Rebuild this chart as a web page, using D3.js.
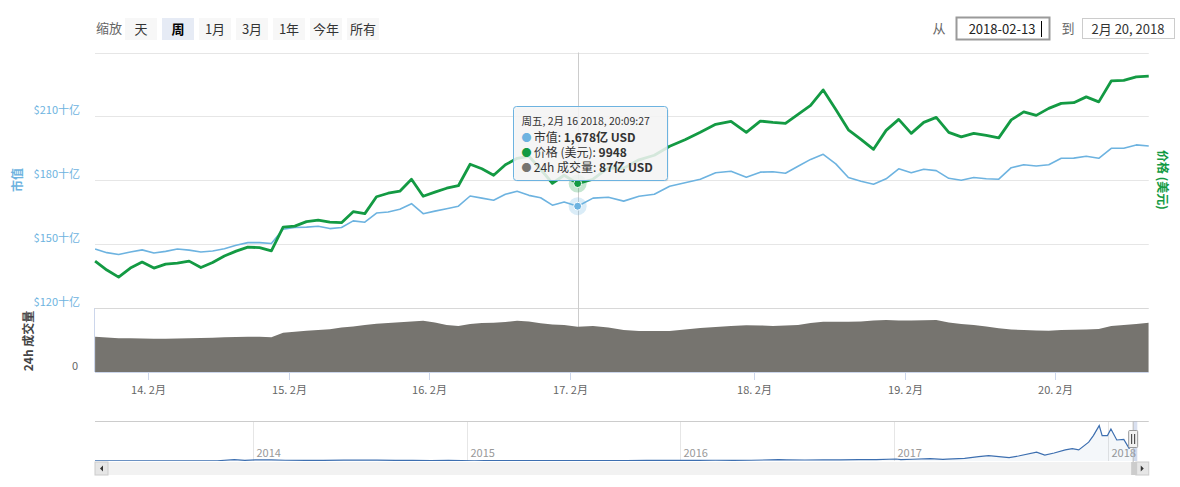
<!DOCTYPE html>
<html><head><meta charset="utf-8">
<script src="https://cdn.jsdelivr.net/npm/d3@7"></script>
<style>
body{margin:0;background:#fff;}
svg{display:block;font-family:"Noto Sans CJK SC","Noto Sans",sans-serif;}
</style></head><body>
<svg id="c" width="1180" height="487"></svg>
<script>
// ---------------- data ----------------
const zoomLabel = "缩放";
const rangeButtons = ["天","周","1月","3月","1年","今年","所有"];
const selectedButton = "周";
const fromLabel = "从", toLabel = "到";
const fromValue = "2018-02-13", toValue = "2月 20, 2018";

const startTime = "2018-02-13T15:00:00Z";
const stepHours = 2;
// 市值 (十亿 USD)
const marketCap = [147.7,146.0,145.1,146.3,147.3,145.8,146.6,147.7,147.2,146.3,
146.8,147.8,149.5,150.7,150.7,150.3,157.0,157.8,158.0,158.4,
157.3,157.8,160.9,160.3,164.6,165.1,166.4,169.0,164.3,165.5,
166.6,167.8,172.6,171.6,170.6,173.4,174.8,172.9,171.8,168.3,
169.8,167.8,171.6,172.0,170.2,172.5,173.4,177.2,178.8,180.5,
183.5,184.2,181.4,183.8,184.0,183.3,186.6,189.8,192.2,187.7,
181.3,179.5,178.1,180.7,185.4,183.5,185.2,184.5,180.9,180.0,
181.3,180.7,180.5,185.9,187.3,186.7,187.3,190.3,190.4,191.3,
190.3,195.0,195.0,196.6,196.1];
// 价格 (美元)
const price = [8734,8594,8484,8625,8719,8625,8688,8703,8734,8633,
8711,8813,8891,8953,8945,8895,9266,9281,9352,9375,
9344,9336,9508,9477,9742,9797,9828,10016,9750,9813,
9875,9914,10250,10180,10078,10242,10344,10375,10172,9953,
10078,9948,10016,10195,10188,10320,10391,10531,10633,10750,
10875,10922,10750,10927,10906,10891,11031,11172,11414,11109,
10789,10641,10484,10781,10953,10734,10906,10984,10750,10680,
10734,10703,10664,10945,11070,11016,11125,11203,11214,11305,
11227,11555,11563,11617,11630];
// 24h 成交量 (十亿 USD)
const volume = [6.79,6.63,6.48,6.48,6.44,6.40,6.40,6.44,6.48,6.54,
6.58,6.67,6.73,6.79,6.77,6.67,7.56,7.73,7.94,8.08,
8.21,8.56,8.75,9.04,9.27,9.42,9.56,9.71,9.87,9.52,
9.04,8.85,9.23,9.42,9.48,9.62,9.87,9.71,9.37,9.13,
9.04,8.70,8.85,8.56,8.08,7.88,7.88,7.88,8.17,8.46,
8.65,8.85,8.98,8.94,8.85,8.94,9.04,9.42,9.67,9.67,
9.67,9.71,9.90,10.00,9.90,9.90,9.94,10.00,9.52,9.23,
9.04,8.75,8.40,8.17,8.08,7.98,7.94,8.08,8.13,8.19,
8.27,8.85,9.04,9.23,9.48];

const dayTicks = ["2018-02-14","2018-02-15","2018-02-16","2018-02-17","2018-02-18","2018-02-19","2018-02-20"];
const capTicks = [120,150,180,210,240];
const capLabelTicks = [120,150,180,210];
const priceTicks = [8000,9000,10000,11000,12000];
const volumeMax = 12.3;

const hoverIndex = 41;
const tooltipHeader = "周五, 2月 16 2018, 20:09:27";

// navigator history: market cap (十亿 USD)
const navDates = ["2013-04-05","2013-05-01","2013-06-01","2013-07-01","2013-08-01","2013-09-01","2013-10-01","2013-11-01","2013-11-30","2013-12-18",
"2014-01-05","2014-02-01","2014-02-25","2014-04-01","2014-05-01","2014-06-05","2014-07-01","2014-08-01","2014-09-01","2014-10-01",
"2014-11-01","2014-12-01","2015-01-14","2015-02-01","2015-03-01","2015-04-01","2015-05-01","2015-06-01","2015-07-01","2015-08-01",
"2015-09-01","2015-10-01","2015-11-04","2015-12-01","2016-01-01","2016-02-01","2016-03-01","2016-04-01","2016-05-01","2016-06-17",
"2016-07-01","2016-08-01","2016-09-01","2016-10-01","2016-11-01","2016-12-01","2017-01-04","2017-01-12","2017-02-01","2017-03-03",
"2017-03-25","2017-04-01","2017-05-01","2017-05-25","2017-06-11","2017-07-16","2017-08-01","2017-09-01","2017-09-15","2017-10-01",
"2017-10-20","2017-11-01","2017-11-12","2017-11-29","2017-12-07","2017-12-17","2017-12-22","2017-12-31","2018-01-06","2018-01-16",
"2018-01-28","2018-02-06","2018-02-13","2018-02-20"];
const navCap = [1.6,1.3,1.2,1.0,1.1,1.5,1.5,2.4,13.0,6.0,
11.0,10.0,7.0,5.5,5.5,8.2,8.0,7.6,6.3,5.0,
4.4,5.2,2.3,3.1,3.5,3.5,3.3,3.2,3.8,4.1,
3.4,3.5,6.0,5.4,6.5,5.8,6.6,6.4,7.0,11.7,
10.4,9.2,9.5,9.7,11.7,12.4,18.0,12.5,15.6,20.8,
15.5,17.6,23.6,40.0,48.0,31.0,44.9,80.0,53.0,72.0,
100.0,112.0,100.0,170.0,230.0,320.0,230.0,230.0,290.0,190.0,
195.0,115.0,145.0,195.0];
const navYears = [2014,2015,2016,2017,2018];

// ---------------- layout ----------------
const svg = d3.select("#c");
const plotL = 95, plotR = 1148.75;
const mainTop = 52.5, mainBot = 308, volTop = 308, volBot = 372;
const BLUE = "#6db3e0", GREEN = "#139a43", VOLC = "#76746f";

const parseDay = d3.utcParse("%Y-%m-%d");
const t0 = new Date(startTime);
const times = marketCap.map((_, i) => d3.utcHour.offset(t0, i * stepHours));
const tEnd = times[times.length - 1];
const dayDates = dayTicks.map(parseDay);

// ordinal-like piecewise time axis
const x = d3.scaleUtc()
  .domain([t0, ...dayDates, tEnd])
  .range([95.1, 148, 289, 429, 570, 754, 905, 1055, plotR]);
const yCap = d3.scaleLinear().domain([120, 240]).range([mainBot, mainTop]);
const yPrice = d3.scaleLinear().domain([8000, 12000]).range([mainBot, mainTop]);
const yVol = d3.scaleLinear().domain([0, volumeMax]).range([volBot, volTop]);

// ---------- toolbar ----------
const tb = svg.append("g").attr("font-size", 13).attr("fill", "#333");
tb.append("text").attr("x", 96).attr("y", 33).attr("fill", "#666").text(zoomLabel);
rangeButtons.forEach((b, i) => {
  const bx = 125 + i * 37;
  const sel = b === selectedButton;
  tb.append("rect").attr("x", bx).attr("y", 18).attr("width", 32).attr("height", 22)
    .attr("fill", sel ? "#e6ebf5" : "#f7f7f7");
  tb.append("text").attr("x", bx + 16).attr("y", 33.5).attr("text-anchor", "middle")
    .attr("font-weight", sel ? "bold" : "normal").attr("fill", sel ? "#000" : "#333").text(b);
});
tb.append("text").attr("x", 939).attr("y", 33).attr("text-anchor", "middle").attr("fill", "#666").text(fromLabel);
tb.append("rect").attr("x", 956.5).attr("y", 17.5).attr("width", 93).attr("height", 22)
  .attr("fill", "#fff").attr("stroke", "#9a9a9a").attr("stroke-width", 2);
tb.append("text").attr("x", 1002).attr("y", 33.5).attr("text-anchor", "middle").attr("fill", "#222").text(fromValue);
tb.append("line").attr("x1", 1041.5).attr("x2", 1041.5).attr("y1", 21).attr("y2", 37).attr("stroke", "#000");
tb.append("text").attr("x", 1068).attr("y", 33).attr("text-anchor", "middle").attr("fill", "#666").text(toLabel);
tb.append("rect").attr("x", 1082.5).attr("y", 18.5).attr("width", 92).attr("height", 20)
  .attr("fill", "#fff").attr("stroke", "#ccc");
tb.append("text").attr("x", 1128).attr("y", 33.5).attr("text-anchor", "middle").attr("fill", "#333").text(toValue);

// ---------- grid ----------
const grid = svg.append("g");
capTicks.forEach(t => {
  grid.append("line").attr("x1", plotL).attr("x2", plotR)
    .attr("y1", Math.round(yCap(t)) + 0.5).attr("y2", Math.round(yCap(t)) + 0.5)
    .attr("stroke", t === 120 ? "#d8d8d8" : "#e6e6e6");
});
// volume pane left axis line
grid.append("line").attr("x1", plotL - 0.5).attr("x2", plotL - 0.5).attr("y1", volTop).attr("y2", volBot).attr("stroke", "#ccd6eb");

// crosshair
const hx = x(times[hoverIndex]);
svg.append("line").attr("x1", Math.round(hx) + 0.5).attr("x2", Math.round(hx) + 0.5)
  .attr("y1", mainTop).attr("y2", volBot).attr("stroke", "#cccccc");

// ---------- left axis labels ----------
const la = svg.append("g").attr("font-size", 11).attr("fill", BLUE).attr("text-anchor", "end");
capLabelTicks.forEach(t => {
  la.append("text").attr("x", 80).attr("y", yCap(t) - 2).text(`$${t}十亿`);
});
svg.append("text").attr("x", 78).attr("y", volBot - 2).attr("font-size", 11).attr("fill", "#666")
  .attr("text-anchor", "end").text(yVol.ticks(1)[0]);
svg.append("text").attr("transform", "translate(22,180) rotate(-90)").attr("text-anchor", "middle")
  .attr("font-size", 12).attr("font-weight", "bold").attr("fill", BLUE).text("市值");
svg.append("text").attr("transform", "translate(33,341) rotate(-90)").attr("text-anchor", "middle")
  .attr("font-size", 12).attr("font-weight", "bold").attr("fill", "#444").text("24h 成交量");
svg.append("text").attr("transform", "translate(1158,180) rotate(90)").attr("text-anchor", "middle")
  .attr("font-size", 12).attr("font-weight", "bold").attr("fill", GREEN).text("价格 (美元)");

// ---------- series ----------
const clip = svg.append("clipPath").attr("id", "pc").append("rect")
  .attr("x", plotL).attr("y", mainTop - 10).attr("width", plotR - plotL).attr("height", volBot - mainTop + 10);

svg.append("path").datum(volume)
  .attr("d", d3.area().x((d, i) => x(times[i])).y0(volBot).y1(d => yVol(d)))
  .attr("fill", VOLC).attr("clip-path", "url(#pc)");

svg.append("path").datum(marketCap)
  .attr("d", d3.line().x((d, i) => x(times[i])).y(d => yCap(d)))
  .attr("fill", "none").attr("stroke", BLUE).attr("stroke-width", 1.6).attr("stroke-linejoin", "round");

svg.append("path").datum(price)
  .attr("d", d3.line().x((d, i) => x(times[i])).y(d => yPrice(d)))
  .attr("fill", "none").attr("stroke", GREEN).attr("stroke-width", 2.8).attr("stroke-linejoin", "round");

// hover markers
[[yPrice(price[hoverIndex]), GREEN], [yCap(marketCap[hoverIndex]), BLUE]].forEach(([yy, c]) => {
  svg.append("circle").attr("cx", hx).attr("cy", yy).attr("r", 9).attr("fill", c).attr("opacity", 0.25);
  svg.append("circle").attr("cx", hx).attr("cy", yy).attr("r", 4).attr("fill", c).attr("stroke", "#fff");
});

// ---------- x axis ----------
const xAxis = svg.append("g").attr("transform", `translate(0,${volBot})`)
  .call(d3.axisBottom(x).tickValues(dayDates).tickSize(8).tickPadding(6)
    .tickFormat(d => `${d.getUTCDate()}. 2月`));
xAxis.select(".domain").remove();
xAxis.selectAll("line").attr("stroke", "#ccd6eb");
xAxis.selectAll("text").attr("font-size", 11).attr("fill", "#666").attr("font-family", "Noto Sans CJK SC, Noto Sans, sans-serif");
svg.append("line").attr("x1", plotL).attr("x2", plotR).attr("y1", volBot + 0.5).attr("y2", volBot + 0.5).attr("stroke", "#ccd6eb");

// ---------- tooltip ----------
const tt = svg.append("g").attr("transform", "translate(513.5,106.5)");
tt.append("rect").attr("x", 1).attr("y", 1).attr("width", 154).attr("height", 74).attr("rx", 3)
  .attr("fill", "rgba(0,0,0,0.08)");
tt.append("rect").attr("width", 154).attr("height", 74).attr("rx", 3)
  .attr("fill", "rgba(247,247,247,0.85)").attr("stroke", BLUE);
tt.append("text").attr("x", 8).attr("y", 18).attr("font-size", 10.5).attr("fill", "#333").text(tooltipHeader);
const fmtC = d3.format(",");
const rows = [
  [BLUE, "市值: ", `${fmtC(Math.round(marketCap[hoverIndex] * 10))}亿 USD`],
  [GREEN, "价格 (美元): ", `${price[hoverIndex]}`],
  [VOLC, "24h 成交量: ", `${Math.round(volume[hoverIndex] * 10)}亿 USD`]
];
rows.forEach(([c, lab, val], i) => {
  const ty = 35 + i * 15;
  const t = tt.append("text").attr("x", 8).attr("y", ty).attr("font-size", 12).attr("fill", "#333");
  t.append("tspan").attr("fill", c).attr("font-size", 10).text("● ");
  t.append("tspan").text(lab);
  t.append("tspan").attr("font-weight", "bold").text(val);
});

// ---------- navigator ----------
const navTop = 421.5, navBot = 461;
const navX = d3.scaleUtc().domain([Date.UTC(2014, 0, 1), Date.UTC(2018, 0, 1)]).range([253, 1108]);
const navY = d3.scaleLinear().domain([0, 330]).range([navBot, navTop + 3]);
const nav = svg.append("g");
nav.append("clipPath").attr("id", "nc").append("rect").attr("x", plotL).attr("y", navTop).attr("width", plotR - plotL).attr("height", navBot - navTop);
navYears.forEach(yv => {
  const xx = Math.round(navX(Date.UTC(yv, 0, 1))) + 0.5;
  nav.append("line").attr("x1", xx).attr("x2", xx).attr("y1", navTop).attr("y2", navBot).attr("stroke", "#e6e6e6");
  nav.append("text").attr("x", xx + 3).attr("y", 457).attr("font-size", 11).attr("fill", "#999").text(yv);
});
const nd = navDates.map(parseDay);
nav.append("path").datum(navCap)
  .attr("d", d3.area().x((d, i) => navX(nd[i])).y0(navBot).y1(d => navY(d)))
  .attr("fill", "rgba(69,114,167,0.06)").attr("clip-path", "url(#nc)");
nav.append("path").datum(navCap)
  .attr("d", d3.line().x((d, i) => navX(nd[i])).y(d => navY(d)))
  .attr("fill", "none").attr("stroke", "#3d6fb0").attr("stroke-width", 1.2).attr("clip-path", "url(#nc)");
nav.append("line").attr("x1", plotL).attr("x2", plotR).attr("y1", navTop).attr("y2", navTop).attr("stroke", "#ccc");
// selected zone
const selX0 = navX(parseDay(fromValue)), selX1 = navX(d3.utcDay.offset(parseDay(fromValue), 7));
nav.append("rect").attr("x", selX0).attr("y", navTop).attr("width", Math.max(3, selX1 - selX0)).attr("height", navBot - navTop)
  .attr("fill", "rgba(102,133,194,0.25)");
nav.append("line").attr("x1", selX0).attr("x2", selX0).attr("y1", navTop).attr("y2", navBot + 14).attr("stroke", "#bbb");
// handle
nav.append("rect").attr("x", selX0 - 4.5).attr("y", 430.5).attr("width", 9).attr("height", 17).attr("rx", 1)
  .attr("fill", "#f2f2f2").attr("stroke", "#999");
[-1.5, 1.5].forEach(o => nav.append("line").attr("x1", selX0 + o).attr("x2", selX0 + o).attr("y1", 434).attr("y2", 444).attr("stroke", "#333"));
// scrollbar
nav.append("rect").attr("x", plotL).attr("y", 462).attr("width", plotR - plotL).attr("height", 13).attr("fill", "#f2f2f2");
nav.append("rect").attr("x", plotL).attr("y", 462).attr("width", 13).attr("height", 13).attr("fill", "#e6e6e6").attr("stroke", "#ccc");
nav.append("rect").attr("x", plotR - 13).attr("y", 462).attr("width", 13).attr("height", 13).attr("fill", "#e6e6e6").attr("stroke", "#ccc");
nav.append("rect").attr("x", selX0 - 2).attr("y", 462).attr("width", 6).attr("height", 13).attr("fill", "#ccc");
nav.append("path").attr("d", `M${plotL + 8},465.5 L${plotL + 5},468.5 L${plotL + 8},471.5 Z`).attr("fill", "#333");
nav.append("path").attr("d", `M${plotR - 8},465.5 L${plotR - 5},468.5 L${plotR - 8},471.5 Z`).attr("fill", "#333");
</script>
</body></html>
